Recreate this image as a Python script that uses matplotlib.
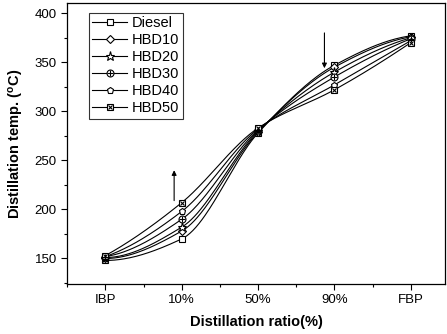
import numpy as np
import matplotlib
matplotlib.use("Agg")
import matplotlib.pyplot as plt
from matplotlib.legend_handler import HandlerTuple
from matplotlib.ticker import MultipleLocator

plt.rcParams['font.family'] = ['Liberation Sans', 'Noto Sans CJK SC', 'DejaVu Sans']

categories = ['IBP', '10%', '50%', '90%', 'FBP']
diesel = [148, 170, 278, 347, 377]
hbd10 = [150, 178, 279, 345, 376]
hbd20 = [151, 182, 280, 340, 375]
hbd30 = [152, 190, 281, 335, 374]
hbd40 = [152, 198, 282, 327, 372]
hbd50 = [153, 207, 283, 322, 370]

series = [
    ('Diesel', diesel, ['s']),
    ('HBD10', hbd10, ['D']),
    ('HBD20', hbd20, ['*']),
    ('HBD30', hbd30, ['o', '+']),
    ('HBD40', hbd40, ['p']),
    ('HBD50', hbd50, ['s', 'x']),
]


def pchip(x, y, n=200):
    x = np.asarray(x, float)
    y = np.asarray(y, float)
    h = np.diff(x)
    delta = np.diff(y) / h
    m = len(x)
    d = np.zeros(m)
    for k in range(1, m - 1):
        if delta[k - 1] * delta[k] > 0:
            w1 = 2 * h[k] + h[k - 1]
            w2 = h[k] + 2 * h[k - 1]
            d[k] = (w1 + w2) / (w1 / delta[k - 1] + w2 / delta[k])
    def end(h0, h1, d0, d1):
        v = ((2 * h0 + h1) * d0 - h0 * d1) / (h0 + h1)
        if np.sign(v) != np.sign(d0):
            v = 0
        elif np.sign(d0) != np.sign(d1) and abs(v) > abs(3 * d0):
            v = 3 * d0
        return v
    d[0] = end(h[0], h[1], delta[0], delta[1])
    d[-1] = end(h[-1], h[-2], delta[-1], delta[-2])
    xs = np.linspace(x[0], x[-1], n)
    ys = np.empty_like(xs)
    for j, xv in enumerate(xs):
        i = min(np.searchsorted(x, xv, side='right') - 1, m - 2)
        t = (xv - x[i]) / h[i]
        h00 = 2 * t**3 - 3 * t**2 + 1
        h10 = t**3 - 2 * t**2 + t
        h01 = -2 * t**3 + 3 * t**2
        h11 = t**3 - t**2
        ys[j] = h00 * y[i] + h10 * h[i] * d[i] + h01 * y[i + 1] + h11 * h[i] * d[i + 1]
    return xs, ys


fig = plt.figure(figsize=(4.47, 3.34), dpi=100)
ax = fig.add_axes([0.1506, 0.1497, 0.9955 - 0.1506, 0.991 - 0.1497])

xpos = np.arange(len(categories))
handles = []
for name, vals, markers in series:
    xs, ys = pchip(xpos, vals)
    ax.plot(xs, ys, color='black', lw=0.8, zorder=2)
    parts = []
    for mk in markers:
        if mk in ('+', 'x'):
            ms = 5 if mk == '+' else 3.5
            ax.plot(xpos, vals, ls='none', marker=mk, ms=ms, mew=0.8,
                    color='black', zorder=4)
            parts.append(plt.Line2D([], [], ls='none', marker=mk, ms=ms,
                                    mew=0.8, color='black'))
        else:
            ms = 6.5 if mk == '*' else (4.5 if mk == 'D' else 5)
            ax.plot(xpos, vals, ls='none', marker=mk, ms=ms, mew=0.8,
                    mfc='white', mec='black', zorder=3)
            parts.append(plt.Line2D([], [], color='black', lw=0.8, marker=mk,
                                    ms=ms, mew=0.8, mfc='white', mec='black'))
    handles.append(tuple(parts))

# arrows
ax.annotate('', xy=(0.9, 240), xytext=(0.9, 209),
            arrowprops=dict(arrowstyle='-|>', color='black', lw=0.8,
                            mutation_scale=7, shrinkA=0, shrinkB=0))
ax.annotate('', xy=(2.87, 344), xytext=(2.87, 380),
            arrowprops=dict(arrowstyle='-|>', color='black', lw=0.8,
                            mutation_scale=7, shrinkA=0, shrinkB=0))

ax.set_xlim(-0.5, 4.45)
ax.set_ylim(124, 410.5)
ax.set_xticks(xpos)
ax.set_xticklabels(categories)
ax.xaxis.set_minor_locator(MultipleLocator(0.5))
ax.yaxis.set_major_locator(MultipleLocator(50))
ax.yaxis.set_minor_locator(MultipleLocator(25))
ax.tick_params(which='major', direction='out', length=4, width=0.8,
               labelsize=9.5, top=False, right=False)
ax.tick_params(which='minor', direction='out', length=2.5, width=0.8,
               top=False, right=False)
for s in ax.spines.values():
    s.set_linewidth(0.9)

ax.set_xlabel('Distillation ratio(%)', fontsize=10.5, fontweight='bold',
              labelpad=6)
ax.set_ylabel(r'Distillation temp. ($\mathregular{^{o}}$C)', fontsize=10.5,
              fontweight='bold', labelpad=6)

leg = ax.legend(handles, [s[0] for s in series], loc='upper left',
                bbox_to_anchor=(0.057, 0.965), borderaxespad=0,
                frameon=True, fancybox=False,
                edgecolor='black', fontsize=10.5, handlelength=2.4,
                handletextpad=0.3, borderpad=0.25, labelspacing=0.2,
                handler_map={tuple: HandlerTuple(ndivide=1)})
leg.get_frame().set_linewidth(0.8)

fig.savefig('out.png', dpi=100)
